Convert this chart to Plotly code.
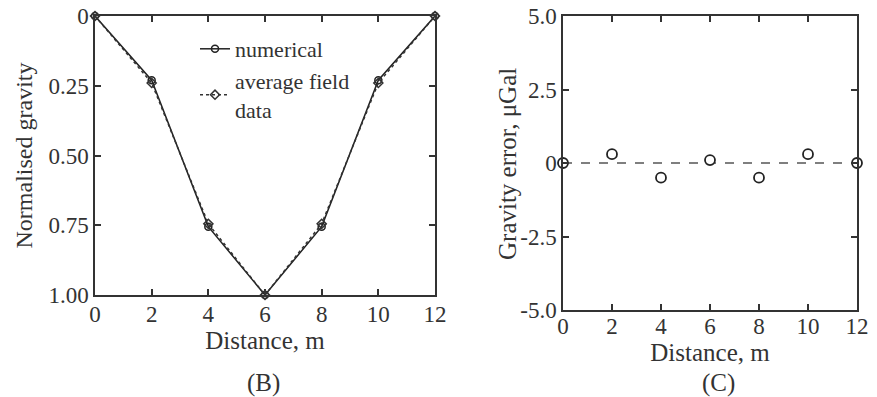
import plotly.graph_objects as go

distance = [0, 2, 4, 6, 8, 10, 12]
numerical = [0, 0.23, 0.755, 1.0, 0.755, 0.23, 0]
field_avg = [0, 0.24, 0.745, 1.0, 0.745, 0.24, 0]
grav_error = [0, 0.3, -0.5, 0.1, -0.5, 0.3, 0]

W, H = 877, 397
FONT = "Liberation Serif"
AX = "#333333"
TXT = "#333333"

def px(x):
    return x / W

def py(y):
    return 1 - y / H

fig = go.Figure()

fig.add_trace(go.Scatter(
    x=distance, y=numerical, name="numerical", mode="lines+markers",
    line=dict(color="#222222", width=1.5),
    marker=dict(symbol="circle-open", size=7, color="#222222", line=dict(width=1.5)),
    xaxis="x", yaxis="y", cliponaxis=False))
fig.add_trace(go.Scatter(
    x=distance, y=field_avg, name="average field<br>data", mode="lines+markers",
    line=dict(color="#333333", width=1.5, dash="dot"),
    marker=dict(symbol="diamond-open", size=7, color="#333333", line=dict(width=1.5)),
    xaxis="x", yaxis="y", cliponaxis=False))
fig.add_trace(go.Scatter(
    x=distance, y=grav_error, name="error", mode="markers", showlegend=False,
    marker=dict(symbol="circle", size=10, color="white", line=dict(width=1.8, color="#222222")),
    xaxis="x2", yaxis="y2", cliponaxis=False))

fig.add_shape(type="line", xref="x2", yref="y2", x0=0, x1=12, y0=0, y1=0,
              line=dict(color="#555555", width=1.5, dash="dash"), layer="below")

def axis_style(tick_size=23, title_size=24):
    return dict(showline=True, linecolor=AX, linewidth=1.5, mirror="ticks",
                ticks="inside", ticklen=6, tickwidth=1.5, tickcolor=AX,
                showgrid=False, zeroline=False, automargin=False,
                tickfont=dict(family=FONT, size=tick_size, color=TXT),
                title_font=dict(family=FONT, size=title_size, color=TXT))

fig.update_layout(
    width=W, height=H, margin=dict(l=0, r=0, t=0, b=0),
    paper_bgcolor="white", plot_bgcolor="white",
    font=dict(family=FONT, color=TXT),
    xaxis=dict(domain=[px(95), px(435)], anchor="y", range=[0, 12],
               tickvals=[0, 2, 4, 6, 8, 10, 12], ticklabelstandoff=-2,
               title=dict(text="Distance, m", standoff=4), **axis_style(23, 25)),
    yaxis=dict(domain=[py(295), py(16)], anchor="x", range=[1.0, 0],
               tickvals=[0, 0.25, 0.5, 0.75, 1.0],
               ticktext=["0", "0.25", "0.50", "0.75", "1.00"],
               title=dict(text="Normalised gravity", standoff=9), **axis_style(23, 24)),
    xaxis2=dict(domain=[px(563), px(857)], anchor="y2", range=[0, 12],
                tickvals=[0, 2, 4, 6, 8, 10, 12], ticklabelstandoff=-5,
                title=dict(text="Distance, m", standoff=0), **axis_style(23, 25)),
    yaxis2=dict(domain=[py(310), py(16)], anchor="x2", range=[-5, 5],
                tickvals=[-5, -2.5, 0, 2.5, 5],
                ticktext=["-5.0", "-2.5", "0", "2.5", "5.0"],
                **axis_style(23, 25)),
    legend=dict(x=px(195), y=py(28), xanchor="left", yanchor="top",
                bgcolor="rgba(0,0,0,0)", font=dict(family=FONT, size=22, color=TXT),
                tracegroupgap=0),
    showlegend=True,
    annotations=[
        dict(text="Gravity error, μGal", x=px(507), y=py(164), xref="paper", yref="paper",
             xanchor="center", yanchor="middle", textangle=-90, showarrow=False,
             font=dict(family=FONT, size=25, color=TXT)),
        dict(text="(B)", x=px(263), y=py(383), xref="paper", yref="paper",
             xanchor="center", yanchor="middle", showarrow=False,
             font=dict(family=FONT, size=25, color=TXT)),
        dict(text="(C)", x=px(718), y=py(383), xref="paper", yref="paper",
             xanchor="center", yanchor="middle", showarrow=False,
             font=dict(family=FONT, size=25, color=TXT)),
    ],
)

fig.write_html("out.html")
